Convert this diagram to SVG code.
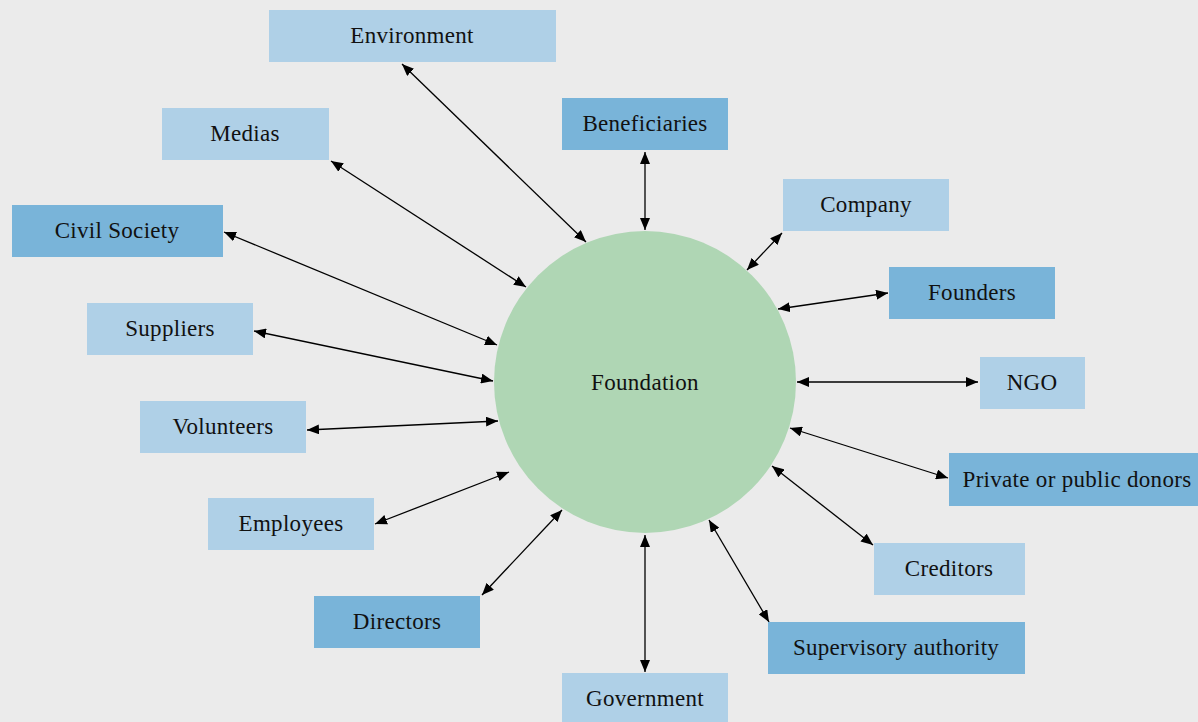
<svg xmlns="http://www.w3.org/2000/svg" width="1198" height="722" viewBox="0 0 1198 722">
<defs>
<marker id="ah" viewBox="0 0 12 10" refX="12" refY="5" markerWidth="12" markerHeight="10" markerUnits="userSpaceOnUse" orient="auto-start-reverse">
<path d="M0,0 L12,5 L0,10 z" fill="#000"/>
</marker>
<style>
.lt{fill:#afd0e7}
.dk{fill:#79b4d9}
text{font-family:"Liberation Serif","DejaVu Serif",serif;font-size:23px;letter-spacing:0.3px;fill:#111;text-anchor:middle;dominant-baseline:central}
.c line{stroke:#000;stroke-width:1.3;marker-start:url(#ah);marker-end:url(#ah)}
</style>
</defs>
<rect width="1198" height="722" fill="#ebebeb"/>
<g id="connectors" class="c">
<line x1="402" y1="64" x2="586" y2="242"/>
<line x1="331" y1="161" x2="526" y2="287"/>
<line x1="645" y1="152" x2="645" y2="230"/>
<line x1="782" y1="233" x2="747" y2="270"/>
<line x1="224" y1="232" x2="497" y2="345"/>
<line x1="888" y1="293" x2="778" y2="309"/>
<line x1="254" y1="331" x2="493" y2="381"/>
<line x1="978" y1="382" x2="797" y2="382"/>
<line x1="307" y1="430" x2="498" y2="421"/>
<line x1="948" y1="478" x2="790" y2="428"/>
<line x1="375" y1="524" x2="509" y2="472"/>
<line x1="873" y1="545" x2="772" y2="466"/>
<line x1="482" y1="595" x2="562" y2="510"/>
<line x1="769" y1="622" x2="709" y2="520"/>
<line x1="645" y1="672" x2="645" y2="535"/>
</g>
<g id="foundation"><circle cx="645" cy="382" r="151" fill="#afd6b4"/><text x="645" y="382">Foundation</text></g>
<g id="environment"><rect class="lt" x="269" y="10" width="287" height="52"/><text x="412" y="35">Environment</text></g>
<g id="medias"><rect class="lt" x="162" y="108" width="167" height="52"/><text x="245" y="133">Medias</text></g>
<g id="beneficiaries"><rect class="dk" x="562" y="98" width="166" height="52"/><text x="645" y="123">Beneficiaries</text></g>
<g id="company"><rect class="lt" x="783" y="179" width="166" height="52"/><text x="866" y="204">Company</text></g>
<g id="civil-society"><rect class="dk" x="12" y="205" width="211" height="52"/><text x="117" y="230">Civil Society</text></g>
<g id="founders"><rect class="dk" x="889" y="267" width="166" height="52"/><text x="972" y="292">Founders</text></g>
<g id="suppliers"><rect class="lt" x="87" y="303" width="166" height="52"/><text x="170" y="328">Suppliers</text></g>
<g id="ngo"><rect class="lt" x="980" y="357" width="105" height="52"/><text x="1032" y="382">NGO</text></g>
<g id="volunteers"><rect class="lt" x="140" y="401" width="166" height="52"/><text x="223" y="426">Volunteers</text></g>
<g id="donors"><rect class="dk" x="949" y="453" width="249" height="53"/><text x="1077" y="479">Private or public donors</text></g>
<g id="employees"><rect class="lt" x="208" y="498" width="166" height="52"/><text x="291" y="523">Employees</text></g>
<g id="creditors"><rect class="lt" x="874" y="543" width="151" height="52"/><text x="949" y="568">Creditors</text></g>
<g id="directors"><rect class="dk" x="314" y="596" width="166" height="52"/><text x="397" y="621">Directors</text></g>
<g id="supervisory"><rect class="dk" x="768" y="622" width="257" height="52"/><text x="896" y="647">Supervisory authority</text></g>
<g id="government"><rect class="lt" x="562" y="673" width="166" height="49"/><text x="645" y="698">Government</text></g>
</svg>
